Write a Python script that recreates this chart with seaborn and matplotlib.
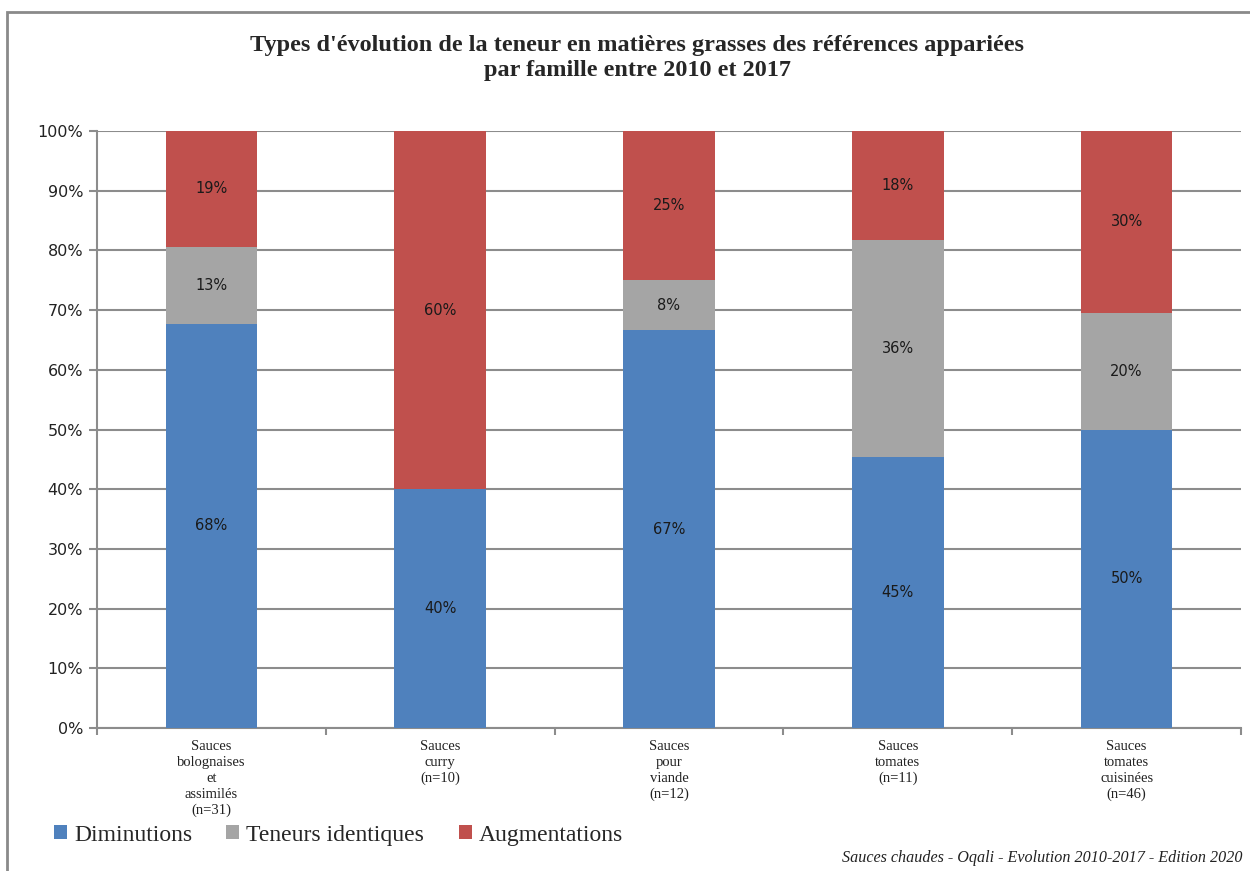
import matplotlib
matplotlib.use("Agg")
import matplotlib.pyplot as plt
from matplotlib.patches import Patch, Rectangle
from matplotlib.ticker import PercentFormatter, FixedLocator
import seaborn as sns
import pandas as pd
import numpy as np

sns.set_theme(style="white")

# data: number of paired references per family and type of evolution
familles = [
    "Sauces\nbolognaises\net\nassimilés\n(n=31)",
    "Sauces\ncurry\n(n=10)",
    "Sauces\npour\nviande\n(n=12)",
    "Sauces\ntomates\n(n=11)",
    "Sauces\ntomates\ncuisinées\n(n=46)",
]
diminutions = [21, 4, 8, 5, 23]
identiques = [4, 0, 1, 4, 9]
augmentations = [6, 6, 3, 2, 14]

series = ["Diminutions", "Teneurs identiques", "Augmentations"]
colors = ["#4F81BD", "#A5A5A5", "#C0504D"]

counts = np.array([diminutions, identiques, augmentations], dtype=float)
pct = counts / counts.sum(axis=0) * 100
cum = pct.cumsum(axis=0)

df = pd.DataFrame({"famille": familles})
for i, s in enumerate(series):
    df[s] = cum[i]

fig = plt.figure(figsize=(12.5, 8.71), dpi=100)
ax = fig.add_axes([97 / 1250, 1 - 728 / 871, (1241 - 97) / 1250, (728 - 131) / 871])

# frame around the chart
fig.patches.append(Rectangle((7 / 1250, -0.1), 1.2, 1 - 12 / 871 + 0.1,
                             transform=fig.transFigure, fill=False,
                             edgecolor="#8a8a8a", linewidth=2, zorder=0))

# stacked bars: draw cumulative totals from top to bottom
for i in reversed(range(len(series))):
    sns.barplot(data=df, x="famille", y=series[i], color=colors[i],
                width=0.4, saturation=1, ax=ax, zorder=3,
                edgecolor="none", linewidth=0)

# segment labels
for i in range(len(series)):
    for j in range(len(familles)):
        if pct[i, j] > 0:
            yc = cum[i, j] - pct[i, j] / 2
            ax.text(j, yc, f"{pct[i, j]:.0f}%", ha="center", va="center",
                    fontsize=10.5, color="#1a1a1a", family="DejaVu Sans", zorder=4)

ax.set_ylim(0, 100)
ax.set_xlim(-0.5, len(familles) - 0.5)
ax.set_yticks(np.arange(0, 101, 10))
ax.yaxis.set_major_formatter(PercentFormatter(decimals=0))
ax.grid(axis="y", color="#8c8c8c", linewidth=1.5, zorder=0)
ax.set_axisbelow(True)
ax.set_xlabel("")
ax.set_ylabel("")

for side in ["top", "right"]:
    ax.spines[side].set_visible(False)
for side in ["left", "bottom"]:
    ax.spines[side].set_color("#8c8c8c")
    ax.spines[side].set_linewidth(1.5)

ax.tick_params(axis="y", which="major", left=True, length=6, width=1.5,
               color="#8c8c8c", labelsize=11.5, pad=4)
for lab in ax.get_yticklabels():
    lab.set_family("DejaVu Sans")
    lab.set_color("#222222")

ax.tick_params(axis="x", which="major", length=0, pad=9)
ax.xaxis.set_minor_locator(FixedLocator(np.arange(-0.5, len(familles), 1)))
ax.tick_params(axis="x", which="minor", bottom=True, length=5, width=1.5,
               color="#8c8c8c")
for lab in ax.get_xticklabels():
    lab.set_family("Liberation Serif")
    lab.set_fontsize(10.5)
    lab.set_linespacing(1.27)
    lab.set_color("#222222")

fig.text(0.51, 1 - 58 / 871,
         "Types d'évolution de la teneur en matières grasses des références appariées\npar famille entre 2010 et 2017",
         ha="center", va="center", fontsize=17.5, fontweight="bold",
         family="Liberation Serif", linespacing=1.3)

handles = [Patch(facecolor=c, edgecolor="none") for c in colors]
fig.legend(handles, series, loc="center left", bbox_to_anchor=(54 / 1250, 1 - 835 / 871),
           ncol=3, frameon=False, prop={"family": "Liberation Serif", "size": 17},
           handlelength=0.55, handleheight=0.55, handletextpad=0.3, columnspacing=1.45,
           borderaxespad=0, borderpad=0)

fig.text(1243 / 1250, 1 - 858 / 871,
         "Sauces chaudes - Oqali - Evolution 2010-2017 - Edition 2020",
         ha="right", va="center", fontsize=11.6, style="italic",
         family="Liberation Serif", color="#222222")

fig.savefig("out.png", dpi=100)
